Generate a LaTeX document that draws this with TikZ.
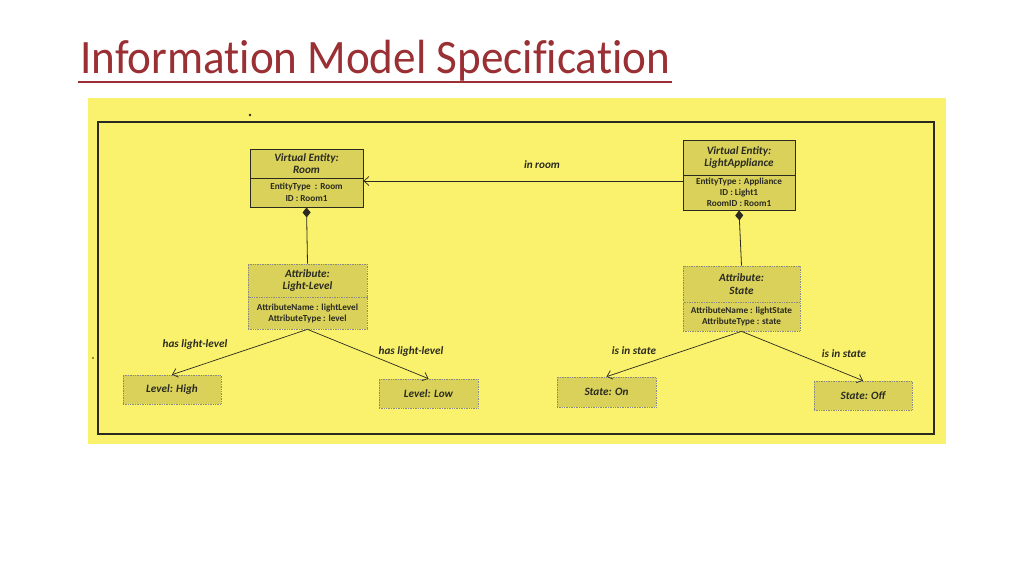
\documentclass[tikz,border=0pt]{standalone}
\usepackage{fontspec}
\setmainfont{Carlito}
\newfontfamily\titlefont[Ligatures=NoCommon]{Carlito}
\usetikzlibrary{arrows.meta}
\definecolor{titlered}{HTML}{9A3034}
\definecolor{bgyellow}{HTML}{FAF16C}
\definecolor{boxfill}{HTML}{D9D15A}
\definecolor{ink}{HTML}{2A2A20}
\tikzset{
  umlhead/.style={draw=ink, line width=0.9pt, fill=boxfill, align=center, inner sep=1pt,
    font=\fontsize{11.2}{12.5}\selectfont\bfseries\itshape, text=ink},
  umlbody/.style={draw=ink, line width=0.9pt, fill=boxfill, align=center, inner sep=1pt,
    font=\fontsize{9.2}{11.5}\selectfont\bfseries, text=ink},
  attrhead/.style={draw=ink!55, densely dotted, line width=0.7pt, fill=boxfill, align=center, inner sep=1pt,
    font=\fontsize{11.2}{12.5}\selectfont\bfseries\itshape, text=ink},
  attrbody/.style={draw=ink!55, densely dotted, line width=0.7pt, fill=boxfill, align=center, inner sep=1pt,
    font=\fontsize{9.2}{11}\selectfont\bfseries, text=ink},
  leafbox/.style={draw=ink!55, densely dotted, line width=0.7pt, fill=boxfill, align=center, inner sep=1pt,
    font=\fontsize{11.2}{12.5}\selectfont\bfseries\itshape, text=ink},
  rellabel/.style={font=\fontsize{11.2}{12.5}\selectfont\bfseries\itshape, text=ink, inner sep=1pt},
  assoc/.style={draw=ink, line width=0.7pt, -{Straight Barb[length=5pt,width=9pt]}},
  compos/.style={draw=ink, line width=0.8pt, {Diamond[length=10pt,width=8pt]}-}
}
\begin{document}
\begin{tikzpicture}[x=1pt,y=-1pt]
\useasboundingbox (0,0) rectangle (1024,576);
\fill[white] (0,0) rectangle (1024,576);
% title
\node[anchor=base west, inner sep=0pt, text=titlered, font=\titlefont\fontsize{48}{52}\selectfont, xscale=0.94, transform shape] (title) at (80,73) {Information Model Specification};
\draw[titlered, line width=2pt] (78,82) -- (672,82);
% yellow panel and frame
\fill[bgyellow] (88,98) rectangle (946,444);
\draw[ink, line width=1.1pt] (98,122) rectangle (934,434);
\fill[ink] (250,115) circle (1.3pt);
\fill[ink] (93,358) circle (0.9pt);
% Room
\node[umlhead, minimum width=113pt, minimum height=29pt] (roomH) at (306.5,163.5) {Virtual Entity:\\Room};
\node[umlbody, minimum width=113pt, minimum height=29pt] (roomB) at (306.5,192.5) {EntityType \ : Room\\ID : Room1};
% LightAppliance
\node[umlhead, minimum width=112pt, minimum height=35pt] (laH) at (739,157.5) {Virtual Entity:\\LightAppliance};
\node[umlbody, minimum width=112pt, minimum height=35pt, font=\fontsize{9.2}{10.8}\selectfont\bfseries] (laB) at (739,192.5) {EntityType : Appliance\\ID : Light1\\RoomID : Room1};
% Attribute Light-Level
\node[attrhead, minimum width=119pt, minimum height=33pt] (llH) at (307.5,280.5) {Attribute:\\Light-Level};
\node[attrbody, minimum width=119pt, minimum height=32pt] (llB) at (307.5,313) {AttributeName : lightLevel\\AttributeType : level};
% Attribute State
\node[attrhead, minimum width=117pt, minimum height=36pt] (stH) at (741.5,284) {Attribute:\\State};
\node[attrbody, minimum width=117pt, minimum height=29pt] (stB) at (741.5,316.5) {AttributeName : lightState\\AttributeType : state};
% leaves
\node[leafbox, minimum width=98pt, minimum height=29pt] (high) at (172,389.5) {Level: High};
\node[leafbox, minimum width=99pt, minimum height=29pt] (low) at (428.5,393.5) {Level: Low};
\node[leafbox, minimum width=99pt, minimum height=30pt] (on) at (606.5,392) {State: On};
\node[leafbox, minimum width=98pt, minimum height=29pt] (off) at (863,395.5) {State: Off};
% connectors
\draw[assoc] ([yshift=11.5pt]laB.west) -- ([yshift=11.5pt]roomB.east);
\node[rellabel] (inroom) at (542,165) {in room};
\draw[compos] (roomB.south) -- (llH.north);
\draw[compos] (laB.south) -- (stH.north);
\draw[assoc] (llB.south) -- (high.north);
\draw[assoc] (llB.south) -- (low.north);
\draw[assoc] (stB.south) -- (on.north);
\draw[assoc] (stB.south) -- (off.north);
\node[rellabel] (l1) at (195,345) {has light-level};
\node[rellabel] (l2) at (411,352) {has light-level};
\node[rellabel] (l3) at (634,351) {is in state};
\node[rellabel] (l4) at (844,354) {is in state};
\end{tikzpicture}
\end{document}
